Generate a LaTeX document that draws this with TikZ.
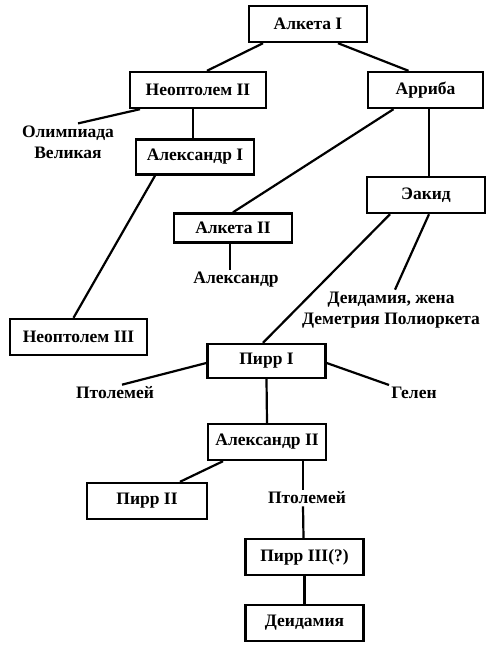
\documentclass[tikz,border=0pt]{standalone}
\usepackage{fontspec}
\setmainfont{Liberation Serif}
\usetikzlibrary{calc}
\tikzset{person/.style = {draw, line width=2.4pt, minimum width=118pt,
            minimum height=36pt, inner sep=2pt,
            font=\fontsize{17.5}{21}\selectfont\bfseries},%
         note/.style = {inner sep=2pt, align=center,
            font=\fontsize{17.5}{21}\selectfont\bfseries},%
         kin/.style = {line width=2.2pt}}

\begin{document}
\begin{tikzpicture}[x=1pt,y=-1pt]
        \useasboundingbox (0,0) rectangle (496,650);
        \node[person] (alk1) at (308,24) {Алкета I};
        \node[person,minimum width=136pt] (neo2) at (198,90) {Неоптолем II};
        \node[person,minimum width=115pt] (arr) at (425.5,90) {Арриба};
        \node[note] (olimp) at (68,142) {Олимпиада\\Великая};
        \node[person,minimum height=35pt] (alex1) at (195,157) {Александр I};
        \node[person] (aekid) at (426,195) {Эакид};
        \node[person,minimum height=29pt] (alk2) at (233,228) {Алкета II};
        \node[note] (alexd) at (236,280) {Александр};
        \node[note] (deid1) at (391,310) {Деидамия, жена\\Деметрия Полиоркета};
        \node[person,minimum width=137pt] (neo3) at (78.5,337) {Неоптолем III};
        \node[person,minimum height=34pt] (pyrr1) at (266.5,361) {Пирр I};
        \node[note] (ptol1) at (115,393) {Птолемей};
        \node[note] (gelen) at (414,393) {Гелен};
        \node[person] (alex2) at (267,442) {Александр II};
        \node[person,minimum width=120pt] (pyrr2) at (147,501) {Пирр II};
        \node[note] (ptol2) at (307,498) {Птолемей};
        \node[person] (pyrr3) at (304.5,557) {Пирр III(?)};
        \node[person] (deid2) at (304.5,623) {Деидамия};
        % links
        \draw[kin] ([xshift=-45pt]alk1.south) -- ([xshift=9pt]neo2.north);
        \draw[kin] ([xshift=30pt]alk1.south) -- ([xshift=-17pt]arr.north);
        \draw[kin] ([xshift=-58pt]neo2.south) -- ([xshift=10pt]olimp.north);
        \draw[kin] ([xshift=-5pt]neo2.south) -- ([xshift=-2pt]alex1.north);
        \draw[kin] ([xshift=-40pt]alex1.south) -- ([xshift=-5pt]neo3.north);
        \draw[kin] ([xshift=-32pt]arr.south) -- (alk2.north);
        \draw[kin] ([xshift=3.5pt]arr.south) -- ([xshift=3pt]aekid.north);
        \draw[kin] ([xshift=3pt]aekid.south) -- ([xshift=4pt]deid1.north);
        \draw[kin] ([xshift=-36pt]aekid.south) -- ([xshift=-3.5pt]pyrr1.north);
        \draw[kin] ([xshift=-3pt]alk2.south) -- ([xshift=-6pt]alexd.north);
        \draw[kin] ([yshift=-2pt]pyrr1.west) -- ([xshift=7pt]ptol1.north);
        \draw[kin] ([yshift=-2pt]pyrr1.east) -- ([xshift=-25pt]gelen.north);
        \draw[kin] (pyrr1.south) -- (alex2.north);
        \draw[kin] ([xshift=-44pt]alex2.south) -- ([xshift=33pt]pyrr2.north);
        \draw[kin] ([xshift=36pt]alex2.south) -- ([xshift=-4pt]ptol2.north);
        \draw[kin] ([xshift=-4pt]ptol2.south) -- ([xshift=-1pt]pyrr3.north);
        \draw[kin] (pyrr3.south) -- (deid2.north);
\end{tikzpicture}
\end{document}
